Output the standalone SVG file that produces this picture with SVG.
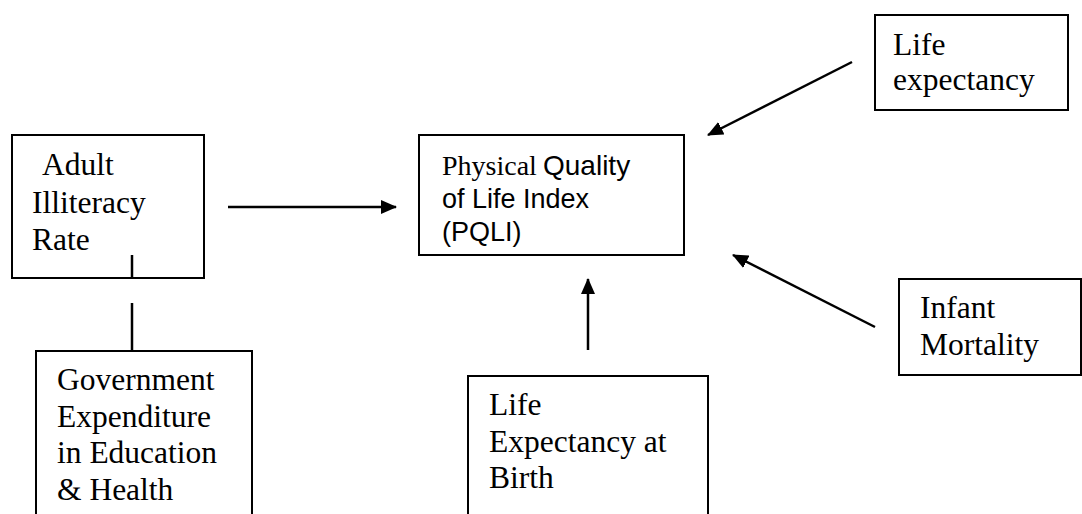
<svg xmlns="http://www.w3.org/2000/svg" width="1082" height="514" viewBox="0 0 1082 514">
<style>
.box{fill:#fff;stroke:#000;stroke-width:2}
.t{font-family:"Liberation Serif","Times New Roman",serif;font-size:31.5px;fill:#000}
.s{font-family:"Liberation Sans",Arial,sans-serif;font-size:27px;fill:#000}
.ln{stroke:#000;stroke-width:2.5;fill:none}
</style>
<defs>
<marker id="ah" markerWidth="16" markerHeight="14" refX="15" refY="7" orient="auto" markerUnits="userSpaceOnUse" viewBox="0 0 16 14">
<path d="M0,0 L16,7 L0,14 z" fill="#000"/>
</marker>
</defs>
<rect width="1082" height="514" fill="#fff"/>
<g id="adult">
<rect class="box" x="12" y="135" width="192" height="143"/>
<text class="t" x="42" y="175">Adult</text>
<text class="t" x="32" y="213">Illiteracy</text>
<text class="t" x="32" y="250">Rate</text>
</g>
<g id="gov">
<rect class="box" x="36" y="351" width="216" height="170"/>
<text class="t" x="57" y="390">Government</text>
<text class="t" x="57" y="427">Expenditure</text>
<text class="t" x="57" y="463">in Education</text>
<text class="t" x="57" y="500">&amp; Health</text>
</g>
<g id="pqli">
<rect class="box" x="419" y="135" width="265" height="120"/>
<text x="442" y="175"><tspan class="t" style="font-size:28px">Physical</tspan><tspan class="s" style="font-size:28px" x="543">Quality</tspan></text>
<text class="s" x="442" y="208">of Life Index</text>
<text class="s" x="442" y="241">(PQLI)</text>
</g>
<g id="lifeexp">
<rect class="box" x="875" y="15" width="193" height="95"/>
<text class="t" x="893" y="55">Life</text>
<text class="t" x="893" y="90">expectancy</text>
</g>
<g id="infant">
<rect class="box" x="899" y="279" width="182" height="96"/>
<text class="t" x="920" y="318">Infant</text>
<text class="t" x="920" y="355">Mortality</text>
</g>
<g id="birth">
<rect class="box" x="468" y="376" width="240" height="150"/>
<text class="t" x="489" y="415">Life</text>
<text class="t" x="489" y="452">Expectancy at</text>
<text class="t" x="489" y="488">Birth</text>
</g>
<g id="connectors">
<line class="ln" x1="132" y1="255" x2="132" y2="278"/>
<line class="ln" x1="132" y1="303" x2="132" y2="351"/>
<line class="ln" x1="228" y1="207" x2="396" y2="207" marker-end="url(#ah)"/>
<line class="ln" x1="588" y1="350" x2="588" y2="279" marker-end="url(#ah)"/>
<line class="ln" x1="852" y1="62" x2="708" y2="135" marker-end="url(#ah)"/>
<line class="ln" x1="875" y1="327" x2="733" y2="255" marker-end="url(#ah)"/>
</g>
</svg>
